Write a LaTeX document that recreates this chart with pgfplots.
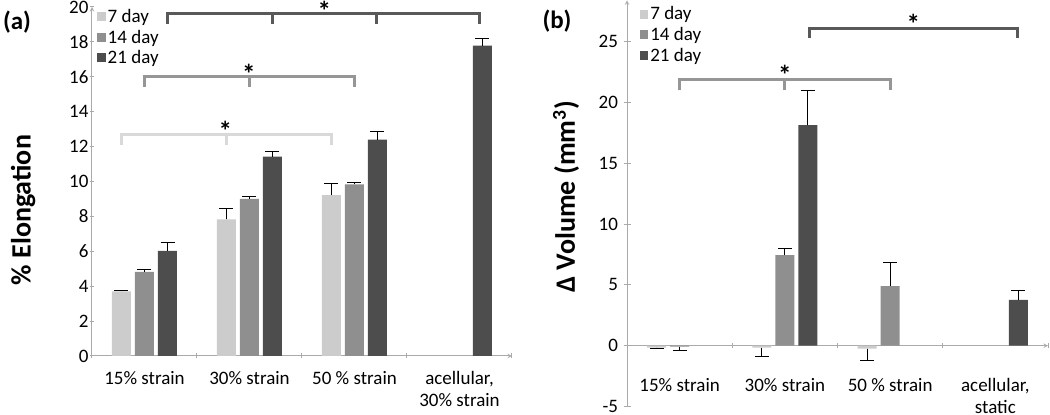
\documentclass[border=0pt]{standalone}
\usepackage{pgfplots}
\pgfplotsset{compat=1.18}
\usepackage{fontspec}
\setmainfont{Carlito}
\definecolor{c7}{RGB}{204,204,204}
\definecolor{c14}{RGB}{143,143,143}
\definecolor{c21}{RGB}{77,77,77}
\definecolor{b7}{RGB}{217,217,217}
\definecolor{b14}{RGB}{150,150,150}
\definecolor{b21}{RGB}{89,89,89}
\definecolor{axc}{RGB}{170,170,170}
\tikzset{bk/.style={line width=3pt, line join=miter},
  ast/.style={font=\bfseries\fontsize{27}{30}\selectfont, inner sep=0pt, anchor=north}}
\pgfplotsset{
 sqlegend/.style={legend image code/.code={\fill[##1] (0pt,-4.5pt) rectangle (8.5pt,4.5pt);}},
 common/.style={
  scale only axis,
  anchor=south west,
  ybar=4pt, bar width=19pt,
  xmin=-0.5, xmax=3.5,
  xtick={0,1,2,3},
  minor xtick={-0.5,0.5,1.5,2.5,3.5},
  minor tick length=5pt,
  tick align=outside,
  tick style={axc, line width=1pt},
  major x tick style={draw=none},
  axis line style={-, axc, line width=1pt},
  ticklabel style={font=\fontsize{19}{22}\selectfont},
  /pgf/number format/assume math mode=true,
  xticklabel style={align=center},
  clip=false,
  error bars/y dir=plus, error bars/y explicit,
  error bars/error bar style={black, line width=1pt},
  error bars/error mark options={black, line width=1pt, mark size=7pt, rotate=90},
  ylabel style={font=\bfseries\fontsize{28}{32}\selectfont, anchor=center},
  legend style={draw=none, fill=none, font=\fontsize{19}{22}\selectfont, anchor=north west, legend cell align=left, inner sep=0pt, row sep=2pt},
 },
}
\begin{document}
\begin{tikzpicture}
\path[use as bounding box] (0,0) rectangle (1050pt,415pt);
\node[font=\bfseries\fontsize{25}{28}\selectfont] at (17pt,393pt) {(a)};
\node[font=\bfseries\fontsize{25}{28}\selectfont] at (557pt,394pt) {(b)};
\begin{axis}[common, at={(92pt,59pt)}, width=420pt, height=349pt,
  major tick length=4pt,
  ymin=0, ymax=20, ytick={0,2,...,20}, axis lines=left,
  xticklabels={15\% strain, 30\% strain, 50 \% strain, {acellular,\\30\% strain}},
  xticklabel style={yshift=-10pt},
  yticklabel style={xshift=2pt},
  ylabel={\% Elongation},
  ylabel style={at={(rel axis cs:-0.164,0.418)}},
  legend style={at={(0.012,1.0)}}]
\addplot[fill=c7, draw=none, sqlegend] coordinates {(0,3.71) +- (0,0.07) (1,7.83) +- (0,0.61) (2,9.22) +- (0,0.65)};
\addplot[fill=c14, draw=none, sqlegend] coordinates {(0,4.82) +- (0,0.13) (1,9.01) +- (0,0.13) (2,9.83) +- (0,0.11)};
\addplot[fill=c21, draw=none, sqlegend] coordinates {(0,6.02) +- (0,0.51) (1,11.43) +- (0,0.28) (2,12.40) +- (0,0.44) (3,17.79) +- (0,0.42)};
\legend{7 day, 14 day, 21 day}
\draw[bk, b21] (axis cs:0.219,19.03) -- (axis cs:0.219,19.64) -- (axis cs:3.19,19.64) -- (axis cs:3.19,19.03);
\draw[bk, b21] (axis cs:1.219,19.64) -- (axis cs:1.219,19.03);
\draw[bk, b21] (axis cs:2.21,19.64) -- (axis cs:2.21,19.03);
\node[ast] at (axis cs:1.714,20.35) {*};
\draw[bk, b14] (axis cs:0,15.43) -- (axis cs:0,16.0) -- (axis cs:2,16.0) -- (axis cs:2,15.43);
\draw[bk, b14] (axis cs:1,16.0) -- (axis cs:1,15.43);
\node[ast] at (axis cs:0.994,16.75) {*};
\draw[bk, b7] (axis cs:-0.219,12.09) -- (axis cs:-0.219,12.72) -- (axis cs:1.781,12.72) -- (axis cs:1.781,12.09);
\draw[bk, b7] (axis cs:0.781,12.72) -- (axis cs:0.781,12.09);
\node[ast] at (axis cs:0.771,13.48) {*};
\end{axis}
\begin{axis}[common, at={(627pt,8.5pt)}, width=421pt, height=406.1pt,
  major tick length=7pt,
  ymin=-5, ymax=28.4, ytick={-5,0,...,25},
  axis x line=middle, axis y line=left,
  hide obscured x ticks=false, hide obscured y ticks=false,
  xticklabels={15\% strain, 30\% strain, 50 \% strain, {acellular,\\static}},
  xticklabel style={yshift=-26pt},
  yticklabel style={xshift=-2pt},
  ylabel={Δ Volume (mm\textsuperscript{3})},
  ylabel style={at={(rel axis cs:-0.145,0.516)}},
  legend style={at={(0.03,0.99)}}]
\addplot[fill=c7, draw=none, sqlegend] coordinates {(0,-0.15) +- (0,-0.12) (1,-0.15) +- (0,-0.7) (2,-0.25) +- (0,-0.93)};
\addplot[fill=c14, draw=none, sqlegend] coordinates {(0,-0.08) +- (0,-0.28) (1,7.46) +- (0,0.55) (2,4.91) +- (0,1.97)};
\addplot[fill=c21, draw=none, sqlegend] coordinates {(1,18.15) +- (0,2.82) (3,3.76) +- (0,0.82)};
\legend{7 day, 14 day, 21 day}
\draw[bk, b14] (axis cs:0,21.03) -- (axis cs:0,21.93) -- (axis cs:2,21.93) -- (axis cs:2,21.03);
\draw[bk, b14] (axis cs:1,21.93) -- (axis cs:1,21.03);
\node[ast] at (axis cs:1.0,23.05) {*};
\draw[bk, b21] (axis cs:1.233,25.33) -- (axis cs:1.233,26.05) -- (axis cs:3.21,26.05) -- (axis cs:3.21,25.33);
\node[ast] at (axis cs:2.22,27.25) {*};
\end{axis}
\end{tikzpicture}
\end{document}
